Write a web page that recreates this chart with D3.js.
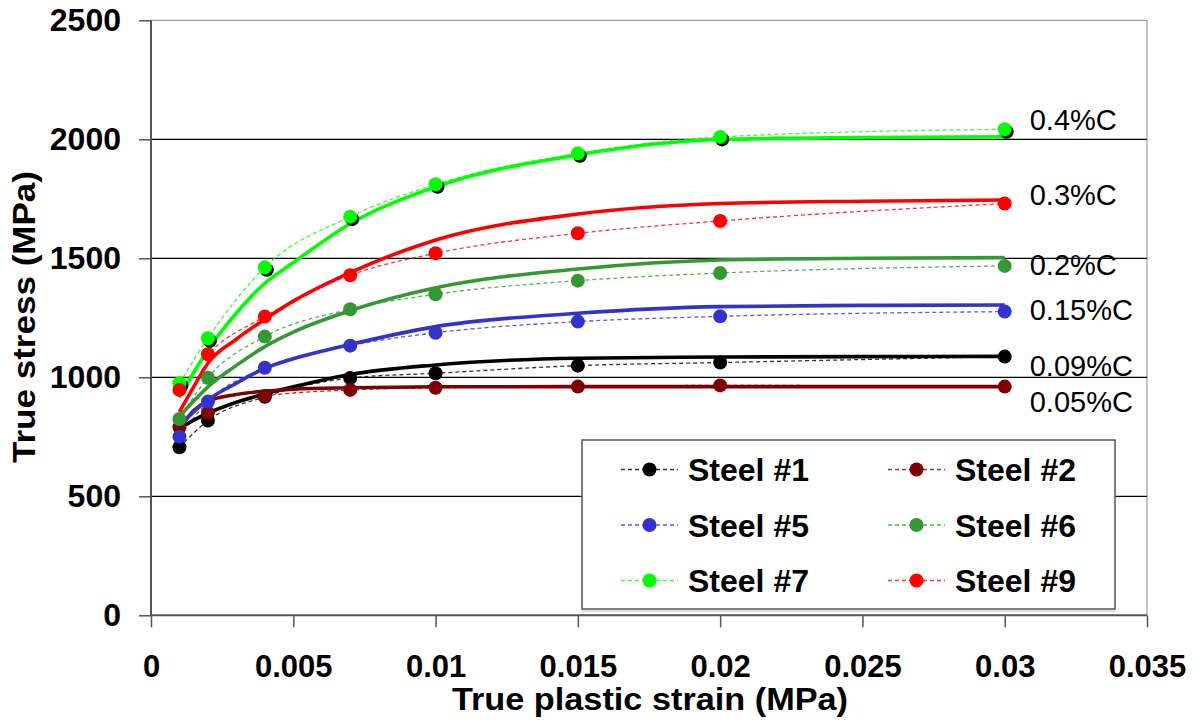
<!DOCTYPE html>
<html>
<head>
<meta charset="utf-8">
<script src="https://cdn.jsdelivr.net/npm/d3@7"></script>
<style>
  html, body { margin: 0; padding: 0; background: #fff; }
  svg { display: block; font-family: "Liberation Sans", Arial, Helvetica, sans-serif; }
</style>
</head>
<body>
<svg id="chart" width="1200" height="722"></svg>
<script>
// ---------- data ----------
const strain = [0.001, 0.002, 0.004, 0.007, 0.01, 0.015, 0.02, 0.03];
const steel1 = [706, 818, 918, 997, 1017, 1049, 1062, 1087];
const steel2 = [790, 851, 921, 947, 956, 961, 966, 961];
const steel5 = [750, 898, 1040, 1133, 1187, 1234, 1256, 1276];
const steel6 = [825, 998, 1171, 1286, 1349, 1406, 1438, 1468];
const steel7 = [975, 1164, 1462, 1675, 1811, 1941, 2010, 2042];
const steel9 = [947, 1097, 1255, 1429, 1521, 1605, 1657, 1730];

const fitStrain = [0.001, 0.0015, 0.002, 0.003, 0.004, 0.005, 0.007, 0.01, 0.015, 0.02, 0.025, 0.03];
const fit009 = [785, 820, 849, 895, 930, 960, 1012, 1052, 1080, 1085, 1087, 1088];
const fit005 = [785, 860, 900, 928, 942, 950, 956, 960, 961, 961, 961, 961];
const fit015 = [795, 855, 905, 975, 1038, 1078, 1138, 1213, 1269, 1297, 1302, 1304];
const fit02  = [835, 900, 960, 1050, 1129, 1190, 1280, 1376, 1455, 1493, 1500, 1503];
const fit04  = [915, 1020, 1115, 1270, 1395, 1482, 1645, 1800, 1935, 1999, 2007, 2011];
const fit03  = [855, 960, 1059, 1160, 1244, 1320, 1440, 1577, 1686, 1730, 1740, 1745];

const seriesNames = ["Steel #1", "Steel #2", "Steel #5", "Steel #6", "Steel #7", "Steel #9"];
const fitLabels = ["0.09%C", "0.05%C", "0.15%C", "0.2%C", "0.4%C", "0.3%C"];

const xTicks = [0, 0.005, 0.01, 0.015, 0.02, 0.025, 0.03, 0.035];
const xTickLabels = ["0", "0.005", "0.01", "0.015", "0.02", "0.025", "0.03", "0.035"];
const yTicks = [0, 500, 1000, 1500, 2000, 2500];

const xTitle = "True plastic strain (MPa)";
const yTitle = "True stress (MPa)";

// ---------- styles ----------
const colors = ["#000000", "#7f0000", "#3333cc", "#339933", "#00ff00", "#ff0000"];
const labelDy = [20, 25, 15, 17, -7, 5];   // px offsets of right-hand labels from curve end
const shadowed = [false, false, false, false, true, false];

(function () {
const series = seriesNames.map((name, i) => ({
  name,
  values: [steel1, steel2, steel5, steel6, steel7, steel9][i],
  fit: [fit009, fit005, fit015, fit02, fit04, fit03][i],
  label: fitLabels[i],
  color: colors[i],
  dy: labelDy[i],
  shadow: shadowed[i]
}));

const svg = d3.select("#chart");
const pLeft = 151, pRight = 1147, pTop = 20.3, pBottom = 615.3;

const x = d3.scaleLinear().domain([0, 0.035]).range([pLeft, pRight]);
const y = d3.scaleLinear().domain([0, 2500]).range([pBottom, pTop]);

// plot border (top & right light gray)
svg.append("line").attr("x1", pLeft).attr("x2", pRight).attr("y1", y(2500)).attr("y2", y(2500))
  .attr("stroke", "#a0a0a0").attr("stroke-width", 1.2);
svg.append("line").attr("x1", pRight).attr("x2", pRight).attr("y1", y(2500)).attr("y2", y(0))
  .attr("stroke", "#b0b0b0").attr("stroke-width", 1.5);

// gridlines
svg.append("g").selectAll("line").data(yTicks.filter(v => v > 0 && v < 2500)).join("line")
  .attr("x1", pLeft).attr("x2", pRight)
  .attr("y1", d => y(d)).attr("y2", d => y(d))
  .attr("stroke", "#000").attr("stroke-width", 1.3);

// axes
const yAxis = svg.append("g").attr("transform", `translate(${pLeft},0)`)
  .call(d3.axisLeft(y).tickValues(yTicks).tickSize(12).tickPadding(18).tickFormat(d3.format("d")));
const xAxis = svg.append("g").attr("transform", `translate(0,${pBottom})`)
  .call(d3.axisBottom(x).tickValues(xTicks).tickSize(12).tickPadding(28)
    .tickFormat((d, i) => xTickLabels[i]));
[yAxis, xAxis].forEach(a => {
  a.select(".domain").attr("stroke", "#555").attr("stroke-width", 2);
  a.selectAll(".tick line").attr("stroke", "#555").attr("stroke-width", 1.5);
  a.selectAll(".tick text").attr("fill", "#000")
    .style("font-size", "32px").style("font-weight", "bold")
    .style("font-family", '"Liberation Sans", Arial, sans-serif');
});
xAxis.selectAll(".tick text").attr("dy", "0.71em").style("font-size", "31px");
yAxis.select(".domain").attr("d", `M0,${y(2500)}V${y(0)}`);
xAxis.select(".domain").attr("d", `M${pLeft},0H${pRight}`);

// axis titles
svg.append("text").attr("x", (pLeft + pRight) / 2 + 1).attr("y", 710)
  .attr("text-anchor", "middle").attr("textLength", 396).attr("lengthAdjust", "spacingAndGlyphs")
  .style("font-size", "31px").style("font-weight", "bold").text(xTitle);
svg.append("text").attr("transform", "translate(35,317) rotate(-90)")
  .attr("text-anchor", "middle").attr("textLength", 292).attr("lengthAdjust", "spacingAndGlyphs")
  .style("font-size", "31px").style("font-weight", "bold").text(yTitle);

// lines
const dataLine = d3.line().x((d, i) => x(strain[i])).y(d => y(d)).curve(d3.curveMonotoneX);
const fitLine = d3.line().x((d, i) => x(fitStrain[i])).y(d => y(d)).curve(d3.curveMonotoneX);

svg.append("g").selectAll("path").data(series).join("path")
  .attr("d", s => dataLine(s.values)).attr("fill", "none")
  .attr("stroke", s => s.color).attr("stroke-opacity", 0.8)
  .attr("stroke-width", 1.3).attr("stroke-dasharray", "4,3");

svg.append("g").selectAll("path").data(series).join("path")
  .attr("d", s => fitLine(s.fit)).attr("fill", "none")
  .attr("stroke", s => s.color).attr("stroke-width", 3.6)
  .attr("stroke-linejoin", "round");

// markers
const mk = svg.append("g");
series.forEach(s => {
  if (s.shadow) {
    mk.append("g").attr("transform", "translate(2,2.5)").selectAll("circle")
      .data(s.values).join("circle")
      .attr("cx", (d, i) => x(strain[i])).attr("cy", d => y(d)).attr("r", 7).attr("fill", "#000");
  }
  mk.append("g").selectAll("circle").data(s.values).join("circle")
    .attr("cx", (d, i) => x(strain[i])).attr("cy", d => y(d)).attr("r", 7).attr("fill", s.color);
});

// right-hand labels
svg.append("g").selectAll("text").data(series).join("text")
  .attr("x", x(0.03) + 25)
  .attr("y", s => y(s.fit[s.fit.length - 1]) + s.dy)
  .style("font-size", "29px").attr("fill", "#000").text(s => s.label);

// legend
const lg = svg.append("g");
const lgX = 582, lgY = 440, lgW = 533, lgH = 169;
lg.append("line").attr("x1", lgX).attr("x2", lgX + lgW).attr("y1", lgY + lgH + 2).attr("y2", lgY + lgH + 2)
  .attr("stroke", "#d0d0d0").attr("stroke-width", 1.5);
lg.append("rect").attr("x", lgX).attr("y", lgY).attr("width", lgW).attr("height", lgH)
  .attr("fill", "#fff").attr("stroke", "#555").attr("stroke-width", 1.5);
const colX = [621, 888], rowY = [469.5, 525, 580.5];
series.forEach((s, i) => {
  const cx = colX[i % 2], cy = rowY[Math.floor(i / 2)];
  const g = lg.append("g").attr("transform", `translate(${cx},${cy})`);
  g.append("line").attr("x1", 0).attr("x2", 57).attr("y1", 0).attr("y2", 0)
    .attr("stroke", s.color).attr("stroke-opacity", 0.8).attr("stroke-width", 1.3).attr("stroke-dasharray", "4,3");
  g.append("circle").attr("cx", 28.5).attr("cy", 0).attr("r", 7).attr("fill", s.color);
  g.append("text").attr("x", 67).attr("y", 11.5)
    .style("font-size", "32px").style("font-weight", "bold").attr("fill", "#000").text(s.name);
});
})();
</script>
</body>
</html>
